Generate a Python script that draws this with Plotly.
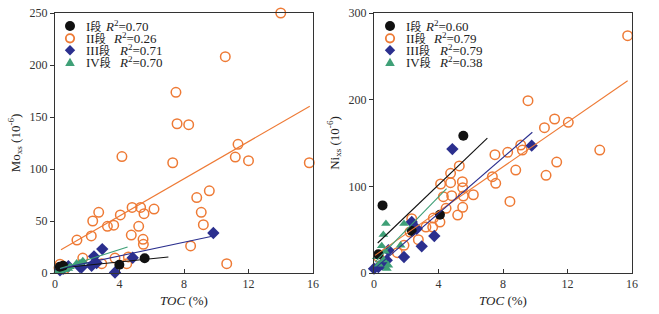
import plotly.graph_objects as go

# ---------------- data ----------------
# Left panel: Mo_xs vs TOC
mo_I_toc = [0.3, 0.5, 3.99, 5.56]
mo_I_val = [6, 7, 8, 14.2]

mo_II_toc = [14.0, 10.56, 7.5, 7.57, 8.29, 11.35, 4.15, 11.18, 12.0, 7.3, 15.77, 9.57, 8.79, 9.07,
             9.2, 8.41, 10.65, 2.71, 2.34, 2.25, 1.36, 3.25, 3.64, 4.05, 4.78, 5.31, 6.14, 5.52,
             5.19, 4.73, 5.46, 5.48, 1.72, 4.55, 3.72, 4.45, 2.9, 0.31, 0.25, 0.6]
mo_II_val = [250, 208, 173.7, 143.5, 142.6, 123.7, 112, 111.5, 108, 106, 106, 79, 72.5, 58.3,
             46.5, 26, 9, 58.3, 50, 35.6, 31.7, 44.9, 46, 55.8, 63, 63, 61.5, 57,
             44.9, 36.5, 32.4, 27.6, 14.4, 15.5, 14.4, 9, 9, 8.4, 5, 4]

mo_III_toc = [9.82, 2.93, 2.42, 3.72, 4.82, 2.58, 2.27, 1.55, 0.83, 0.31, 0.5, 1.65]
mo_III_val = [38.5, 23, 16, 0.5, 14.7, 9.6, 7, 5.8, 6.5, 2.6, 4, 5.5]

mo_IV_toc = [0.31, 0.41, 0.83, 0.93, 1.34, 1.55, 1.72, 1.76, 0.6, 0.2]
mo_IV_val = [1.3, 2.6, 4.2, 6, 9.3, 9.6, 11.5, 10.9, 3, 2]

# Right panel: Ni_xs vs TOC
ni_I_toc = [0.53, 5.54, 4.09, 2.34, 0.27]
ni_I_val = [78, 158.4, 67.3, 48.5, 21.5]

ni_II_toc = [15.73, 9.55, 11.2, 10.57, 12.05, 14.0, 9.1, 9.2, 7.5, 8.29, 8.79, 7.34, 7.55, 8.43,
             10.67, 11.33, 5.29, 4.75, 4.13, 4.75, 5.48, 5.5, 4.3, 4.82, 5.54, 6.16, 4.47, 5.5,
             5.19, 4.09, 3.68, 3.64, 3.22, 2.75, 2.34, 2.23, 1.86, 1.45, 0.3, 0.6]
ni_II_val = [273.8, 198.8, 177.7, 167.7, 173.8, 141.9, 147.7, 141.9, 136.5, 139.2, 118.8, 111.1, 103.5, 82.6,
             112.7, 128, 123.5, 115, 102.7, 104.2, 105.4, 98.5, 88, 89.2, 88.8, 90.3, 74.6, 75.8,
             66.9, 58.8, 63.4, 53, 53, 38.4, 62.7, 47.3, 32, 23.4, 18, 20]

ni_III_toc = [4.86, 9.78, 2.96, 1.86, 3.74, 2.34, 2.65, 0.89, 0.27, 0.79, 0.0, 0.5, 0.6]
ni_III_val = [143, 146.9, 30.8, 18.5, 42.7, 58.8, 51.1, 26.2, 6.9, 14.6, 5, 10, 12]

ni_IV_toc = [0.74, 0.58, 1.86, 0.48, 0.68, 0.17, 0.89, 1.65, 0.3, 0.6, 0.8]
ni_IV_val = [56.9, 44.2, 56.9, 31.2, 25, 18.5, 8.9, 32, 10, 15, 5]

# trend lines: slope, intercept, x start, x end (per segment I..IV)
mo_slope = [1.57, 8.94, 3.3, 4.96]
mo_icpt = [4.4, 19.1, 3.2, 2.7]
mo_x0 = [0.27, 0.37, 0.31, 0.31]
mo_x1 = [7.03, 15.8, 9.82, 4.5]

ni_slope = [17.8, 12.86, 16.1, 19.1]
ni_icpt = [30.5, 19.6, 4.3, 11.5]
ni_x0 = [0.23, 0.06, 0.17, 0.06]
ni_x1 = [7.03, 15.73, 9.82, 4.5]

seg_roman = ["I", "II", "III", "IV"]
seg_word = "段"
mo_r2 = ["0.70", "0.26", "0.71", "0.70"]
ni_r2 = ["0.60", "0.79", "0.79", "0.38"]

x_ticks = [0, 4, 8, 12, 16]
mo_ticks = [0, 50, 100, 150, 200, 250]
ni_ticks = [0, 100, 200, 300]

# ---------------- style ----------------
BLACK = "#111111"
ORANGE = "#EE7A35"
NAVY = "#2B2F8E"
GREEN = "#3FA077"
colors = [BLACK, ORANGE, NAVY, GREEN]
FONT = "Liberation Serif, 'Times New Roman', 'Noto Sans CJK SC', serif"

W, H = 659, 314
ML, MR, MT, MB = 55, 27, 13, 41
PW, PH = W - ML - MR, H - MT - MB


def px2x(px):
    return (px - ML) / PW


def px2y(py):
    return (MT + PH - py) / PH


def marker_style(i):
    if i == 0:
        return dict(symbol="circle", size=10, color=BLACK, line=dict(width=0))
    if i == 1:
        return dict(symbol="circle-open", size=9.5, color=ORANGE, line=dict(width=1.5, color=ORANGE))
    if i == 2:
        return dict(symbol="diamond", size=9.5, color=NAVY, line=dict(width=0))
    return dict(symbol="triangle-up", size=8.5, color=GREEN, line=dict(width=0))


fig = go.Figure()

panels = [
    ("x", "y", [mo_I_toc, mo_II_toc, mo_III_toc, mo_IV_toc], [mo_I_val, mo_II_val, mo_III_val, mo_IV_val],
     mo_slope, mo_icpt, mo_x0, mo_x1),
    ("x2", "y2", [ni_I_toc, ni_II_toc, ni_III_toc, ni_IV_toc], [ni_I_val, ni_II_val, ni_III_val, ni_IV_val],
     ni_slope, ni_icpt, ni_x0, ni_x1),
]

for xa, ya, xs, ys, sl, ic, x0s, x1s in panels:
    for i in [1, 2, 3, 0]:
        fig.add_trace(go.Scatter(x=xs[i], y=ys[i], mode="markers", marker=marker_style(i),
                                 xaxis=xa, yaxis=ya, showlegend=False, cliponaxis=False))
    for i in range(4):
        lx = [x0s[i], x1s[i]]
        ly = [sl[i] * v + ic[i] for v in lx]
        fig.add_trace(go.Scatter(x=lx, y=ly, mode="lines", line=dict(color=colors[i], width=1.1),
                                 xaxis=xa, yaxis=ya, showlegend=False))

axis_common = dict(showline=True, linecolor="#333", linewidth=1, mirror=True, showgrid=False,
                   zeroline=False, tickfont=dict(family=FONT, size=12, color="#333"),
                   tickcolor="#333", ticklen=4, automargin=False)

title_font = dict(family=FONT, size=13, color="#222")

fig.update_layout(
    width=W, height=H, margin=dict(l=ML, r=MR, t=MT, b=MB),
    paper_bgcolor="white", plot_bgcolor="white", showlegend=False,
    font=dict(family=FONT, color="#222"),
    xaxis=dict(domain=[0, px2x(313)], range=[0, 16], tickvals=x_ticks, ticks="inside", anchor="y",
               title=dict(text="<i>TOC</i> (%)", font=title_font, standoff=5),
               **axis_common),
    yaxis=dict(domain=[0, 1], range=[0, 250], tickvals=mo_ticks, ticks="outside", anchor="x",
               title=dict(text="Mo<sub>xs</sub> (10<sup>-6</sup>)", font=title_font, standoff=6),
               **axis_common),
    xaxis2=dict(domain=[px2x(374), 1], range=[0, 16], tickvals=x_ticks, ticks="inside", anchor="y2",
                title=dict(text="<i>TOC</i> (%)", font=title_font, standoff=5),
                **axis_common),
    yaxis2=dict(domain=[0, 1], range=[0, 300], tickvals=ni_ticks, ticks="outside", anchor="x2",
                title=dict(text="Ni<sub>xs</sub> (10<sup>-6</sup>)", font=title_font, standoff=6),
                **axis_common),
)

# ---------------- custom legends ----------------
rows_py = [26, 38.3, 50.3, 62.3]
legend_specs = [
    (70, 86, [105, 113, 119, 119], mo_r2),
    (390, 406, [425, 433, 439, 439], ni_r2),
]
shapes = []
annotations = []
for mk_px, lab_px, r_px, r2 in legend_specs:
    for i in range(4):
        cy = px2y(rows_py[i])
        cx = px2x(mk_px)
        base = dict(xref="paper", yref="paper", xsizemode="pixel", ysizemode="pixel",
                    xanchor=cx, yanchor=cy, layer="above")
        if i == 0:
            shapes.append(dict(type="circle", x0=-5, x1=5, y0=-5, y1=5,
                               fillcolor=BLACK, line=dict(width=0), **base))
        elif i == 1:
            shapes.append(dict(type="circle", x0=-4.2, x1=4.2, y0=-4.2, y1=4.2,
                               fillcolor="rgba(0,0,0,0)", line=dict(width=1.8, color=ORANGE), **base))
        elif i == 2:
            shapes.append(dict(type="path", path="M0,5.2 L5.2,0 L0,-5.2 L-5.2,0 Z",
                               fillcolor=NAVY, line=dict(width=0), **base))
        else:
            shapes.append(dict(type="path", path="M0,4.5 L4.8,-3.8 L-4.8,-3.8 Z",
                               fillcolor=GREEN, line=dict(width=0), **base))
        label = seg_roman[i] + "<span style='font-size:11px'>" + seg_word + "</span>"
        annotations.append(dict(xref="paper", yref="paper", x=px2x(lab_px), y=cy, xanchor="left",
                                align="left", yanchor="middle", showarrow=False, text=label,
                                borderpad=0, borderwidth=0,
                                font=dict(family=FONT, size=13, color="#222")))
        annotations.append(dict(xref="paper", yref="paper", x=px2x(r_px[i]), y=cy, xanchor="left",
                                align="left", yanchor="middle", showarrow=False, borderpad=0,
                                borderwidth=0,
                                text="<i>R</i><sup>2</sup>=" + r2[i],
                                font=dict(family=FONT, size=13, color="#222")))

fig.update_layout(shapes=shapes, annotations=annotations)

fig.write_html("out.html", config={"displayModeBar": False},
               post_script="document.body.style.margin='0';document.body.style.padding='0';")
